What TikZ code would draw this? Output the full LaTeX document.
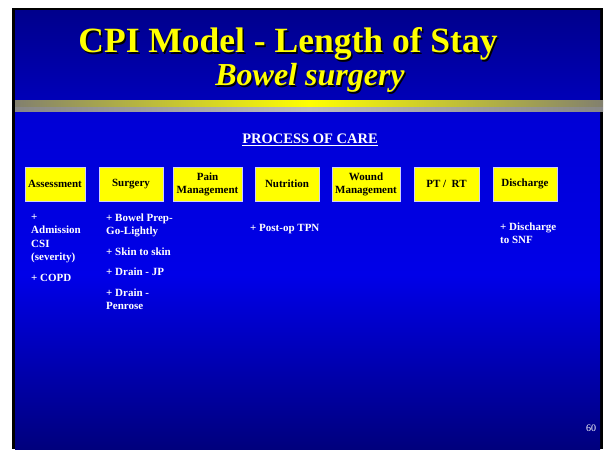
\documentclass[tikz,border=0pt]{standalone}
\usepackage{fontspec}
\setmainfont{Liberation Serif}
\usepackage{xcolor}
\usepackage{tikz}
\usetikzlibrary{positioning}
\definecolor{headtop}{RGB}{0,0,140}
\definecolor{headbot}{RGB}{0,0,185}
\definecolor{bodytop}{RGB}{0,0,212}
\definecolor{bodymid}{RGB}{0,0,232}
\definecolor{bodybot}{RGB}{0,0,125}
\definecolor{barolive}{RGB}{130,128,110}
\definecolor{bargrey}{RGB}{135,135,135}
\definecolor{barlight}{RGB}{190,190,190}
\definecolor{boxedge}{RGB}{205,205,255}
\definecolor{slideyellow}{RGB}{255,255,0}
\tikzstyle{heading} = [
    inner sep=0pt, anchor=base, text=slideyellow
]
\tikzstyle{stage} = [
    rectangle, draw=boxedge, fill=slideyellow, line width=0.8pt,
    minimum height=34pt, inner sep=1pt, align=center, text=black,
    font=\fontsize{11}{13}\selectfont\bfseries
]
\tikzstyle{item} = [
    anchor=north west, inner sep=0pt, align=left, text=white,
    font=\fontsize{11}{13.5}\selectfont\bfseries,
    execute at begin node=\strut
]

\begin{document}
\begin{tikzpicture}[x=1pt, y=-1pt]
        \useasboundingbox (0,0) rectangle (604,449);

        % Slide background
        \fill[white] (0,0) rectangle (604,449);
        \fill[black] (12,8) rectangle (603,449);
        \shade[top color=headtop, bottom color=headbot] (15,11) rectangle (600,101);
        \shade[top color=bodytop, bottom color=bodybot, middle color=bodymid]
            (15,101) rectangle (600,449);

        % Rule under the title
        \shade[left color=barolive, right color=barolive, middle color=slideyellow]
            (15,101) rectangle (603,106.5);
        \shade[left color=bargrey, right color=bargrey, middle color=barlight]
            (15,108) rectangle (603,111.5);

        % Title
        \node[heading, text=black, font=\fontsize{35.5}{38}\selectfont\bfseries]
            (titleshade) at (289.5,54.5) {CPI Model - Length of Stay};
        \node[heading, font=\fontsize{35.5}{38}\selectfont\bfseries]
            (title) at (288,53) {CPI Model - Length of Stay};
        \node[heading, text=black, font=\fontsize{32}{34}\selectfont\bfseries\itshape]
            (subshade) at (311.5,87.5) {Bowel surgery};
        \node[heading, font=\fontsize{32}{34}\selectfont\bfseries\itshape]
            (subtitle) at (310,86) {Bowel surgery};

        \node[heading, text=white, font=\fontsize{14.5}{16}\selectfont\bfseries]
            (process) at (310,144) {\underline{PROCESS OF CARE}};

        % Stages of care
        \node[stage, minimum width=60pt] (assess) at (55,184) {Assessment};
        \node[stage, minimum width=64pt] (surgery) at (131,184) {Surgery};
        \node[stage, minimum width=69pt] (pain) at (207.5,184) {Pain\\Management};
        \node[stage, minimum width=64pt] (nutrition) at (287,184) {Nutrition};
        \node[stage, minimum width=68pt] (wound) at (366,184) {Wound\\Management};
        \node[stage, minimum width=65pt] (ptrt) at (446.5,184) {PT /\ \ RT};
        \node[stage, minimum width=64pt] (discharge) at (525,184) {Discharge};

        % Items under each stage
        \node[item] (assessitems) at (31,214)
            {+\\Admission\\CSI\\(severity)\\[7pt]+ COPD};
        \node[item] (surgeryitems) at (106,213.5)
            {+ Bowel Prep-\\Go-Lightly\\[7pt]+ Skin to skin\\[7pt]+ Drain - JP\\[7pt]+ Drain -\\Penrose};
        \node[item] (nutritionitems) at (250,222) {+ Post-op TPN};
        \node[item] (dischargeitems) at (500,222.5) {+ Discharge\\to SNF};

        % Page number
        \node[text=white, font=\fontsize{10}{12}\selectfont, inner sep=0pt]
            (pagenum) at (591,428) {60};
    \end{tikzpicture}
\end{document}
